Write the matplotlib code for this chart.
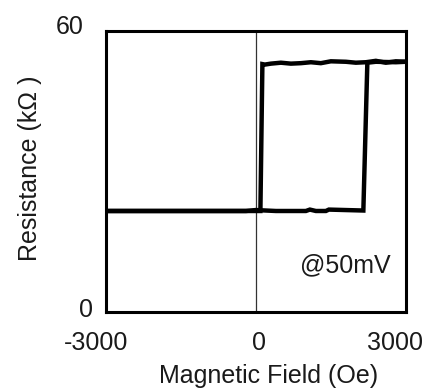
import matplotlib
matplotlib.use("Agg")
import matplotlib.pyplot as plt
from matplotlib.transforms import ScaledTranslation

plt.rcParams['font.family'] = ['Liberation Sans', 'DejaVu Sans']
plt.rcParams['axes.unicode_minus'] = False

# increasing field sweep (low -> high at ~2200 Oe)
field_up = [-3000, -2000, -1000, -200, 0, 400, 1000, 1080, 1200, 1400, 1460, 1800, 2150, 2230, 2400, 2800, 3000]
res_up = [21.6, 21.6, 21.6, 21.6, 21.8, 21.6, 21.6, 21.9, 21.6, 21.6, 21.9, 21.8, 21.7, 53.3, 53.5, 53.4, 53.5]

# decreasing field sweep (high -> low at ~100 Oe)
field_down = [3000, 2800, 2600, 2400, 2200, 2000, 1800, 1500, 1300, 1100, 900, 700, 500, 300, 180, 130, 90, 0, -1000, -2000, -3000]
res_down = [53.5, 53.6, 53.3, 53.7, 53.4, 53.3, 53.5, 53.6, 53.2, 53.4, 53.2, 53.1, 53.3, 53.1, 52.9, 53.0, 21.6, 21.6, 21.6, 21.6, 21.6]

x_ticks = [-3000, 0, 3000]
y_ticks = [0, 60]

text_color = '#1a1a1a'

fig = plt.figure(figsize=(4.29, 3.92), dpi=100)
ax = fig.add_axes([0.247, 0.204, 0.699, 0.716])

ax.axvline(0, color='#333333', lw=0.9, zorder=1)
ax.plot(field_up, res_up, color='black', lw=3.2, solid_joinstyle='miter', zorder=3)
ax.plot(field_down, res_down, color='black', lw=3.2, solid_joinstyle='miter', zorder=3)

ax.set_xlim(-3000, 3000)
ax.set_ylim(0, 60)
ax.set_xticks(x_ticks)
ax.set_yticks(y_ticks)
ax.tick_params(length=0, labelsize=18, labelcolor=text_color)
ax.tick_params(axis='x', pad=14)
ax.tick_params(axis='y', pad=9)
for s in ax.spines.values():
    s.set_linewidth(2.2)

# the original's tick labels sit a little off their ticks
x_shift = [(-10, 0), (3, 0), (-11, 0)]
y_shift = [(0, 5), (-10, 6.5)]
for lab, (dx, dy) in zip(ax.get_xticklabels(), x_shift):
    lab.set_transform(lab.get_transform() + ScaledTranslation(dx / 100, dy / 100, fig.dpi_scale_trans))
for lab, (dx, dy) in zip(ax.get_yticklabels(), y_shift):
    lab.set_transform(lab.get_transform() + ScaledTranslation(dx / 100, dy / 100, fig.dpi_scale_trans))

ax.set_xlabel('Magnetic Field (Oe)', fontsize=18, color=text_color)
ax.set_ylabel('Resistance (kΩ )', fontsize=18, color=text_color)
ax.xaxis.set_label_coords(0.543, -0.185)
ax.yaxis.set_label_coords(-0.253, 0.512)
ax.yaxis.label.set_va('center')
ax.text(880, 10, '@50mV', fontsize=18, va='center', ha='left', color=text_color)

fig.savefig('out.png', dpi=100)
